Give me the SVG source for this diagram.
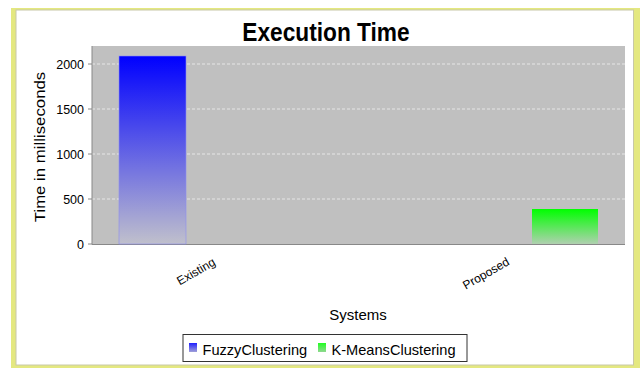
<svg xmlns="http://www.w3.org/2000/svg" width="643" height="368" viewBox="0 0 643 368">
<style>
text{font-family:"Liberation Sans",Arial,sans-serif;fill:#000}
.tick{font-size:12.5px;text-anchor:end}
.grid{stroke:#e6e6e6;stroke-width:1;stroke-dasharray:3,2}
.axis{stroke:#888888;stroke-width:1}
</style>
<defs>
<linearGradient id="gBlue" x1="0" y1="0" x2="0" y2="1">
<stop offset="0" stop-color="#0000ff"/>
<stop offset="1" stop-color="#c0c0cc"/>
</linearGradient>
<linearGradient id="gGreen" x1="0" y1="0" x2="0" y2="1">
<stop offset="0" stop-color="#00ff00"/>
<stop offset="1" stop-color="#b0d0b0"/>
</linearGradient>
<linearGradient id="lBlue" x1="0" y1="0" x2="0" y2="1">
<stop offset="0" stop-color="#2020ff"/>
<stop offset="1" stop-color="#a0a0d8"/>
</linearGradient>
<linearGradient id="lGreen" x1="0" y1="0" x2="0" y2="1">
<stop offset="0" stop-color="#20ff20"/>
<stop offset="1" stop-color="#90d890"/>
</linearGradient>
</defs>
<rect x="0" y="0" width="643" height="368" fill="#ffffff"/>
<g id="frame">
<rect x="11" y="8" width="629" height="360" fill="#e4e880"/>
<rect x="16" y="10" width="617.5" height="355" fill="#ffffff" stroke="#c8c8a8" stroke-width="1"/>
</g>
<g id="title"><text x="326" y="41" font-size="22.7" font-weight="bold" text-anchor="middle" transform="translate(326,41) scale(1,1.1) translate(-326,-41)">Execution Time</text></g>
<g id="plot">
<rect x="92" y="46" width="533" height="198" fill="#c0c0c0"/>
<line class="grid" x1="92" y1="64" x2="625" y2="64"/>
<line class="grid" x1="92" y1="109" x2="625" y2="109"/>
<line class="grid" x1="92" y1="154" x2="625" y2="154"/>
<line class="grid" x1="92" y1="199" x2="625" y2="199"/>
<line class="axis" x1="92" y1="46" x2="92" y2="244.5"/>
<line class="axis" x1="92" y1="244.5" x2="625" y2="244.5"/>
<line class="axis" x1="88" y1="64" x2="92" y2="64"/>
<line class="axis" x1="88" y1="109" x2="92" y2="109"/>
<line class="axis" x1="88" y1="154" x2="92" y2="154"/>
<line class="axis" x1="88" y1="199" x2="92" y2="199"/>
<line class="axis" x1="88" y1="244" x2="92" y2="244"/>
</g>
<g id="yticks">
<text class="tick" x="84" y="68.5">2000</text>
<text class="tick" x="84" y="113.5">1500</text>
<text class="tick" x="84" y="158.5">1000</text>
<text class="tick" x="84" y="203.5">500</text>
<text class="tick" x="84" y="248.5">0</text>
</g>
<g id="ylabel"><text font-size="14.6" text-anchor="middle" transform="translate(45,147) scale(1,1.15) rotate(-90)">Time in milliseconds</text></g>
<g id="bar-existing-fuzzy"><rect x="119" y="56" width="67" height="188" fill="url(#gBlue)" stroke="#8c8cf0" stroke-width="0.6"/></g>
<g id="bar-proposed-kmeans"><rect x="532" y="209" width="66" height="35" fill="url(#gGreen)"/></g>
<g id="xlabels">
<text font-size="12" text-anchor="middle" transform="translate(198,275) rotate(-30)">Existing</text>
<text font-size="12" text-anchor="middle" transform="translate(488,277) rotate(-30)">Proposed</text>
</g>
<g id="xlabel"><text x="358" y="319.5" font-size="15" text-anchor="middle">Systems</text></g>
<g id="legend">
<rect x="183" y="334.5" width="284" height="27" fill="#ffffff" stroke="#333333" stroke-width="1"/>
<rect x="189" y="343" width="8" height="9" fill="url(#lBlue)"/>
<text x="202.5" y="355" font-size="14.6">FuzzyClustering</text>
<rect x="318" y="343" width="8" height="9" fill="url(#lGreen)"/>
<text x="331.5" y="355" font-size="14.6">K-MeansClustering</text>
</g>
</svg>
